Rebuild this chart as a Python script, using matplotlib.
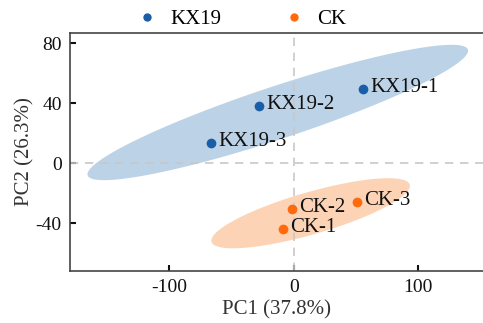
import numpy as np
import matplotlib
matplotlib.use("Agg")
import matplotlib.pyplot as plt
from matplotlib.lines import Line2D

plt.rcParams['font.family'] = ['Liberation Serif', 'DejaVu Serif']
plt.rcParams['axes.unicode_minus'] = False

groups = ["KX19", "CK"]
kx_labels = ["KX19-1", "KX19-2", "KX19-3"]
kx_pc1 = [55.8, -27.7, -66.3]
kx_pc2 = [49.5, 38.2, 13.5]
ck_labels = ["CK-1", "CK-2", "CK-3"]
ck_pc1 = [-8.7, -1.4, 51.0]
ck_pc2 = [-44.0, -30.5, -25.6]
point_colors = ["#1b5ea8", "#ff6a0d"]
fill_colors = ["#bcd2e6", "#fdd3b5"]
xlabel = "PC1 (37.8%)"
ylabel = "PC2 (26.3%)"
xticks = [-100, 0, 100]
yticks = [-40, 0, 40, 80]

fig = plt.figure(figsize=(4.83, 3.23), dpi=100)
ax = fig.add_axes([0.145, 0.162, 0.855, 0.736])

def ellipse_pts(x, y, r=np.sqrt(5.991)):
    x = np.asarray(x); y = np.asarray(y)
    c = np.array([x.mean(), y.mean()])
    cov = np.cov(np.vstack([x, y]))
    vals, vecs = np.linalg.eigh(cov)
    t = np.linspace(0, 2*np.pi, 300)
    circ = np.vstack([np.cos(t), np.sin(t)])
    pts = vecs @ (np.sqrt(vals)[:, None] * circ) * r
    return c[0] + pts[0], c[1] + pts[1]

data = [(kx_pc1, kx_pc2, kx_labels), (ck_pc1, ck_pc2, ck_labels)]
for (xs, ys, labs), pc, fc in zip(data, point_colors, fill_colors):
    ex, ey = ellipse_pts(xs, ys)
    ax.fill(ex, ey, color=fc, lw=0, zorder=1)

ax.axvline(0, color="#c8c8c8", lw=1.2, ls=(0, (5, 4)), zorder=2)
ax.axhline(0, color="#c8c8c8", lw=1.2, ls=(0, (5, 4)), zorder=2)

for (xs, ys, labs), pc in zip(data, point_colors):
    ax.plot(xs, ys, 'o', color=pc, ms=7, mec='none', zorder=3)
    for x, y, l in zip(xs, ys, labs):
        ax.annotate(l, (x, y), xytext=(5, 1), textcoords='offset points',
                    ha='left', va='center', fontsize=15, color='#111111', zorder=4)

ax.set_xlim(-179.5, 152)
ax.set_ylim(-71.6, 86.7)
ax.set_xticks(xticks)
ax.set_yticks(yticks)
ax.tick_params(direction='in', length=4, width=1.5, labelsize=14, colors='#111111', pad=6)
for s in ['left', 'bottom', 'top']:
    ax.spines[s].set_color('#444444')
    ax.spines[s].set_linewidth(1.2)
ax.spines['right'].set_visible(False)
ax.set_xlabel(xlabel, fontsize=15, color='#333333', labelpad=3)
ax.set_ylabel(ylabel, fontsize=15, color='#333333', labelpad=1)

handles = [Line2D([], [], marker='o', ls='none', color=c, ms=6, mec='none') for c in point_colors]
fig.legend(handles, groups, loc='center', bbox_to_anchor=(0.5, 0.94), ncol=2, frameon=False,
           fontsize=15, handletextpad=0.6, columnspacing=3.0, handlelength=1.0)

fig.savefig("out.png", dpi=100)
